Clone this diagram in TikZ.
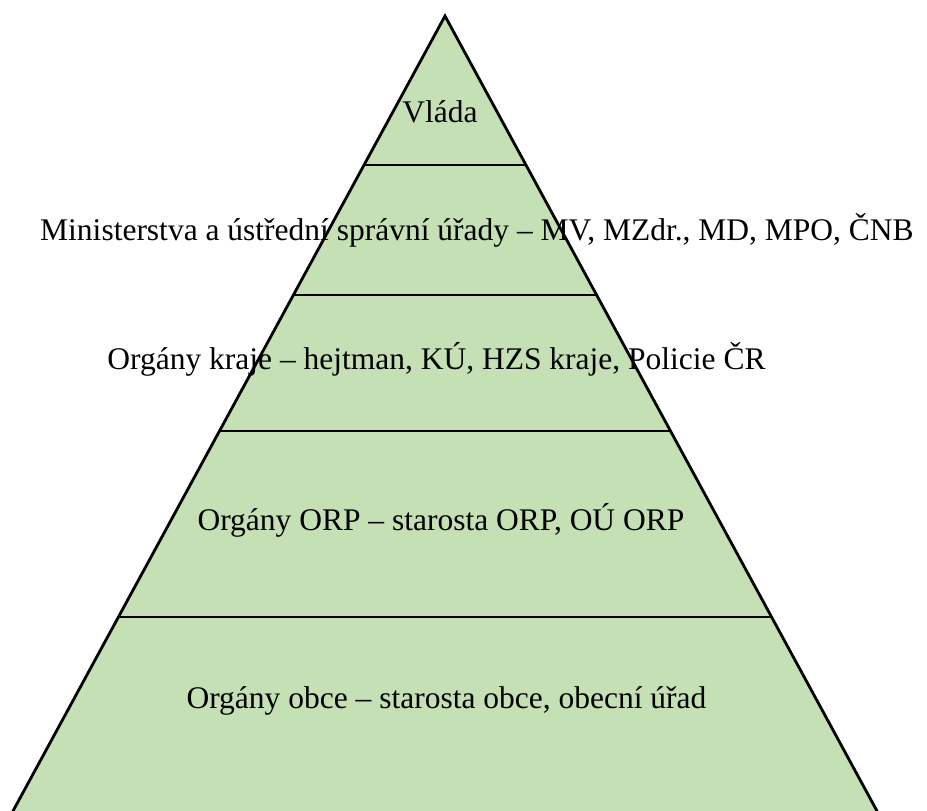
\documentclass[tikz,border=0pt]{standalone}
\usepackage{fontspec}
\setmainfont{Liberation Serif}
\usetikzlibrary{calc}
\definecolor{pyrgreen}{HTML}{C5E0B4}
\tikzset{lbl/.style={anchor=base, inner sep=0pt, font=\fontsize{31.5pt}{34pt}\selectfont}}
\begin{document}
\begin{tikzpicture}[x=1pt,y=-1pt]
\useasboundingbox (0,0) rectangle (927,811);
\clip (0,0) rectangle (927,811);
\coordinate (A) at (445,16);
\coordinate (BL) at (13,811);
\coordinate (BR) at (877,811);
\coordinate (BLx) at ($(A)!1.05!(BL)$);
\coordinate (BRx) at ($(A)!1.05!(BR)$);
\fill[pyrgreen] (A) -- (BLx) -- (BRx) -- cycle;
\foreach \t/\n in {0.1874/1,0.3509/2,0.5220/3,0.7560/4}{
  \draw[line width=1.6pt] ($(A)!\t!(BL)$) -- ($(A)!\t!(BR)$);
}
\draw[line width=2.8pt, line join=miter] (BLx) -- (A) -- (BRx);
\node[lbl] (vlada) at (440,122) {Vláda};
\node[lbl] (min) at (477,240) {Ministerstva a ústřední správní úřady – MV, MZdr., MD, MPO, ČNB};
\node[lbl] (kraj) at (436.5,369) {Orgány kraje – hejtman, KÚ, HZS kraje, Policie ČR};
\node[lbl] (orp) at (441,530) {Orgány ORP – starosta ORP, OÚ ORP};
\node[lbl] (obec) at (446.5,708) {Orgány obce – starosta obce, obecní úřad};
\end{tikzpicture}
\end{document}
